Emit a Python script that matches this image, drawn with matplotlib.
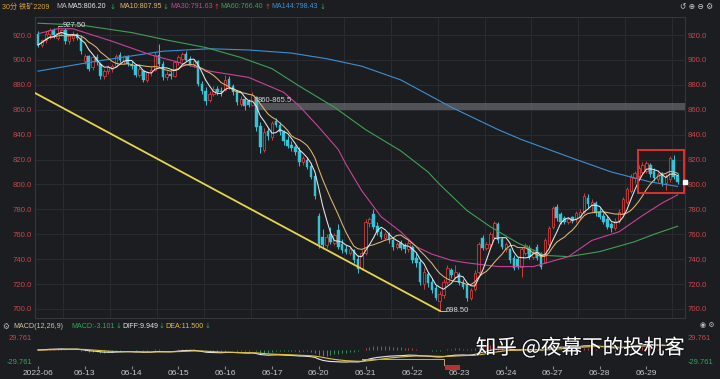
import numpy as np
import pandas as pd
import matplotlib
matplotlib.use("Agg")
import matplotlib.pyplot as plt
from matplotlib.patches import Rectangle
import matplotlib.patheffects as pe

plt.rcParams['font.family'] = ['Liberation Sans', 'Noto Sans CJK SC', 'DejaVu Sans']

BG = '#1c1d21'
GRID = '#2a2c31'
UP = '#d23c3c'
DOWN = '#36c3d6'
AX_RED = '#c9464a'
AX_GREEN = '#2fa85a'

# ---------- 30 min bars of 铁矿2209, one row per trading day ----------
opens = [921, 912, 916, 921, 924, 918, 922, 924, 915, 918, 921, 918,
         899, 903, 894, 902, 897, 887, 891, 893, 895, 904, 899, 903,
         896, 895, 888, 891, 884, 890, 892, 904, 897, 886, 889, 887,
         898, 901, 905, 901, 897, 899, 881, 875, 868, 873, 877, 875,
         876, 885, 879, 874, 865, 869, 867, 864, 870, 847, 828, 843,
         838, 851, 848, 842, 836, 832, 830, 827, 818, 820, 815, 807,
         775, 758, 751, 760, 753, 763, 752, 748, 745, 747, 740, 733,
         745, 769, 776, 767, 762, 757, 760, 755, 750, 753, 751, 748,
         750, 741, 738, 720, 728, 722, 717, 706, 711, 722, 731, 726,
         728, 722, 719, 709, 716, 730, 757, 749, 752, 758, 768, 756,
         748, 748, 741, 740, 734, 745, 749, 742, 750, 744, 738, 752,
         766, 782, 776, 773, 770, 774, 772, 774, 778, 789, 784, 785,
         778, 775, 772, 768, 765, 771, 777, 786, 795, 805, 807, 810,
         811, 816, 811, 804, 809, 801, 804, 820, 807]
highs = [923, 917, 923, 926, 926, 927.5, 925, 926, 921, 923, 922, 920,
         905, 904, 904, 905, 898, 893, 896, 897, 905, 906, 904, 904,
         899, 897, 894, 892, 891, 894, 906, 913, 899, 891, 891, 899,
         904, 906, 907, 903, 901, 900, 883, 878, 875, 879, 879, 878,
         888, 887, 881, 876, 871, 870, 869, 874, 871, 850, 845, 845,
         851, 853, 850, 844, 839, 835, 832, 830, 823, 822, 817, 809,
         777, 764, 760, 766, 761, 768, 756, 751, 750, 748, 743, 747,
         772, 774, 780, 770, 764, 762, 762, 757, 754, 755, 753, 755,
         751, 745, 740, 733, 730, 725, 719, 714, 724, 735, 733, 735,
         730, 724, 721, 717, 731, 754, 759, 754, 762, 771, 770, 758,
         754, 749, 743, 742, 750, 753, 751, 748, 752, 746, 757, 767,
         783, 784, 778, 775, 774, 775, 779, 780, 793, 792, 788, 787,
         781, 777, 775, 770, 773, 780, 790, 798, 808, 811, 816, 818,
         819, 817, 813, 810, 810, 808, 823, 823.6, 809]
lows = [910, 910, 914, 917, 918, 916, 919, 913, 913, 915, 916, 905,
        897, 891, 892, 896, 885, 885, 889, 890, 894, 898, 897, 895,
        893, 886, 886, 882, 882, 887, 891, 895, 884, 884, 885, 886,
        896, 899, 899, 895, 894, 879, 873, 864, 866, 871, 872, 871,
        875, 877, 872, 864, 863, 860, 862, 863, 843, 825, 826, 836,
        836, 846, 840, 832, 829, 827, 824, 815, 816, 812, 804, 788,
        749, 748, 749, 752, 751, 748, 745, 744, 743, 737, 729, 731,
        743, 766, 764, 759, 756, 755, 753, 747, 748, 747, 745, 746,
        737, 734, 719, 716, 718, 713, 707, 698.5, 709, 720, 725, 724,
        719, 716, 706, 707, 714, 728, 747, 747, 750, 757, 753, 748,
        746, 737, 731, 732, 726, 743, 740, 740, 739, 732, 737, 750,
        764, 771, 768, 768, 768, 769, 770, 772, 776, 781, 778, 775,
        772, 768, 764, 762, 763, 769, 776, 784, 793, 801, 805, 808,
        809, 806, 803, 802, 799, 795.5, 802, 804, 800]
closes = [912, 916, 921, 924, 920, 922, 924, 915, 920, 921, 918, 907,
          903, 893, 902, 898, 887, 891, 894, 895, 903, 900, 903, 897,
          895, 888, 893, 884, 890, 892, 904, 897, 886, 889, 887, 898,
          902, 905, 900, 897, 899, 881, 875, 867, 873, 877, 874, 874,
          884, 879, 874, 866, 869, 863, 864, 872, 846, 830, 842, 839,
          849, 848, 842, 835, 831, 829, 826, 818, 821, 814, 806, 791,
          752, 751, 758, 754, 759, 750, 747, 746, 748, 739, 732, 745,
          770, 772, 766, 762, 758, 760, 755, 750, 752, 749, 748, 753,
          739, 737, 722, 730, 721, 715, 709, 712, 722, 733, 727, 730,
          721, 718, 709, 715, 729, 752, 749, 752, 760, 769, 755, 750,
          752, 739, 733, 734, 748, 751, 742, 746, 741, 734, 755, 765,
          781, 773, 770, 770, 772, 771, 777, 778, 791, 784, 786, 777,
          774, 770, 766, 765, 771, 778, 788, 796, 806, 809, 813, 816,
          817, 808, 805, 808, 801, 806, 821, 806, 802]

day_start = [0, 12, 24, 36, 48, 60, 72, 84, 96, 108, 120, 132, 144, 156]
day_labels = ['2022-06', '06-13', '06-14', '06-15', '06-16', '06-17', '06-20',
              '06-21', '06-22', '06-23', '06-24', '06-27', '06-28', '06-29']

# slow averages at a few bars (bar index, price)
ma30_idx = [0, 5, 9, 19, 29, 35, 44, 54, 63, 67, 72, 77, 79, 83, 88, 93, 97,
            101, 106, 110, 118, 127, 136, 142, 149, 155, 160, 164]
ma30_val = [921, 925, 925, 915, 904, 899, 891, 886, 874, 863, 846, 828, 816,
            795, 774, 762, 750, 744, 739, 737, 734, 734, 742, 755, 762, 775,
            785, 791.6]
ma60_idx = [0, 11, 24, 33, 43, 52, 60, 67, 76, 84, 93, 100, 103, 110, 116,
            123, 130, 136, 144, 153, 158, 164]
ma60_val = [929.5, 928, 922, 916, 910, 902, 893, 879, 862, 844, 827, 810, 800,
            779, 766, 753, 743, 742, 746, 754, 760, 766.4]
ma144_idx = [0, 15, 32, 44, 54, 65, 74, 83, 93, 106, 118, 124, 138, 147, 157,
             164]
ma144_val = [891, 899, 907, 909, 908, 905.5, 901, 895, 884, 862, 844, 836, 820,
             810, 802, 798.4]

# drawings on the chart
trend_idx = [-0.8, 103]
trend_val = [873.5, 698.5]
band_start, band_lo, band_hi = 55.6, 860, 865.5
box_idx = [153.8, 165.6]
box_val = [793.1, 827.6]

# ------------------------------------------------------------------
o = np.array(opens, float)
h = np.array(highs, float)
l = np.array(lows, float)
c = np.array(closes, float)
n = len(c)
x = np.arange(n)
XL = (-0.77, 165.9)

s = pd.Series(c)
ma5 = s.rolling(5, min_periods=1).mean()
ma10 = s.rolling(10, min_periods=1).mean()
diff = s.ewm(span=12, adjust=False).mean() - s.ewm(span=26, adjust=False).mean()
dea = diff.ewm(span=9, adjust=False).mean()
hist = 2 * (diff - dea)

W, H = 720, 379
fig = plt.figure(figsize=(W / 100, H / 100), dpi=100, facecolor=BG)


def fx(px):
    return px / W


def fy(py):
    return 1 - py / H


ax = fig.add_axes([fx(35), fy(318), fx(650), (318 - 17) / H], facecolor=BG)
ax.set_xlim(*XL)
ax.set_ylim(692.7, 934.5)
for sp in ax.spines.values():
    sp.set_color('#34363c')
    sp.set_linewidth(0.8)

yt = np.arange(700, 921, 20)
ax.set_yticks(yt)
ax.set_yticklabels(['%.1f' % v for v in yt])
ax.tick_params(axis='y', length=0, labelsize=5.6, labelcolor=AX_RED,
               labelleft=True, labelright=True, pad=2)
ax.set_xticks(np.array(day_start) + 6.5)
ax.tick_params(axis='x', length=0, labelbottom=False)
ax.grid(True, color=GRID, lw=0.7)
ax.set_axisbelow(True)

# level band
ax.add_patch(Rectangle((band_start, band_lo), XL[1] - band_start, band_hi - band_lo,
                       facecolor='#64666b', edgecolor='none', alpha=0.75, zorder=1))
ax.text(band_start + 0.6, band_hi + 2.3, '860-865.5', color='#d8d8d8', fontsize=5.5,
        va='center', ha='left', zorder=6)

# candles
up = c >= o
ax.vlines(x[up], l[up], h[up], color=UP, lw=0.7, zorder=3)
ax.vlines(x[~up], l[~up], h[~up], color=DOWN, lw=0.7, zorder=3)
body = np.maximum(np.abs(c - o), 0.5)
ax.bar(x[up], body[up], bottom=np.minimum(o, c)[up], width=0.64, facecolor=BG,
       edgecolor=UP, linewidth=0.6, zorder=4)
ax.bar(x[~up], body[~up], bottom=np.minimum(o, c)[~up], width=0.64,
       facecolor=DOWN, edgecolor=DOWN, linewidth=0.3, zorder=4)

# averages
ax.plot(ma144_idx, ma144_val, color='#3d8fd4', lw=0.8, zorder=5)
ax.plot(ma60_idx, ma60_val, color='#3fa052', lw=0.8, zorder=5)
ax.plot(ma30_idx, ma30_val, color='#c8429a', lw=0.8, zorder=5)
ax.plot(x, ma10, color='#e0b870', lw=0.75, zorder=5)
ax.plot(x, ma5, color='#e8e8e8', lw=0.75, zorder=5)

# trend line and box
ax.plot(trend_idx, trend_val, color='#e8d44d', lw=1.3, zorder=6)
ax.add_patch(Rectangle((box_idx[0], box_val[0]), box_idx[1] - box_idx[0],
                       box_val[1] - box_val[0], fill=False, edgecolor='#e0302c',
                       lw=1.4, zorder=7, clip_on=False))

# high / low marks
ih, il = int(np.argmax(h)), int(np.argmin(l))
ax.plot([ih, ih + 1.2], [h[ih], h[ih]], color='#cfcfcf', lw=0.6, zorder=6)
ax.text(ih + 1.3, h[ih], '%.2f' % h[ih], color='#dcdcdc', fontsize=5.5, va='center', zorder=6)
ax.plot([il, il + 1.5], [l[il], l[il]], color='#cfcfcf', lw=0.6, zorder=6)
ax.text(il + 1.6, l[il], '%.2f' % l[il], color='#dcdcdc', fontsize=5.5, va='center', zorder=6)
ax.plot([XL[1]], [c[-1]], marker='s', ms=2.2, color='white', clip_on=False, zorder=8)

# ---------- MACD ----------
mx = fig.add_axes([fx(35), fy(366), fx(650), (366 - 332) / H], facecolor=BG)
mx.set_xlim(*XL)
mx.set_ylim(-39.7, 44.6)
for sp in mx.spines.values():
    sp.set_visible(False)
pos = hist >= 0
mx.vlines(x[pos], 0, hist[pos], color='#c23c3c', lw=0.7)
mx.vlines(x[~pos], 0, hist[~pos], color='#2f9a5a', lw=0.7)
mx.plot(x, diff, color='#e6e6e6', lw=0.8)
mx.plot(x, dea, color='#e0c040', lw=0.8)
mx.plot([83, 104, 104], [-22.3, -22.3, -39.7], color='#c9a86a', lw=0.7)
mx.set_yticks([29.761, -29.761])
mx.set_yticklabels(['29.761', '-29.761'])
mx.tick_params(axis='y', length=0, labelsize=5.4, labelleft=True, labelright=True, pad=2)
for tk, col in zip(mx.yaxis.get_major_ticks(), [AX_RED, AX_GREEN]):
    tk.label1.set_color(col)
    tk.label2.set_color(col)
mx.set_xticks(day_start)
mx.set_xticklabels(day_labels)
mx.tick_params(axis='x', length=2, color='#8a8a8a', labelsize=6, labelcolor='#c8c8c8', pad=1)

fig.add_artist(Rectangle((fx(445), fy(370)), fx(15), 5 / H, transform=fig.transFigure,
                         facecolor='#b8322e', edgecolor='none'))

# ---------- header texts ----------
def htext(px, py, s, col, size=5.1, **kw):
    fig.text(fx(px), fy(py), s, color=col, fontsize=size, va='center', ha='left', **kw)


htext(2, 7, '30分 铁矿2209', '#d9a13a')
htext(56, 7, 'MA', '#bdbdbd')
htext(67, 7, 'MA5:806.20', '#e6e6e6')
htext(110, 7, '↓', AX_GREEN, family='DejaVu Sans')
htext(119, 7, 'MA10:807.95', '#e0b870')
htext(163, 7, '↓', AX_GREEN, family='DejaVu Sans')
htext(170, 7, 'MA30:791.63', '#c8429a')
htext(214, 7, '↑', '#e04040', family='DejaVu Sans')
htext(220, 7, 'MA60:766.40', '#3fa052')
htext(265, 7, '↑', '#e04040', family='DejaVu Sans')
htext(271, 7, 'MA144:798.43', '#3d8fd4')
htext(320, 7, '↓', AX_GREEN, family='DejaVu Sans')
htext(680, 6, '↺ ⊕ ⊖ ⚙', '#cfcfcf', size=5.5, family='DejaVu Sans')

htext(2, 326, '⚙', '#bdbdbd', size=5.5, family='DejaVu Sans')
htext(13, 326, 'MACD(12,26,9)', '#d2c2a0')
htext(71, 326, 'MACD:-3.101', AX_GREEN)
htext(116, 326, '↓', AX_GREEN, family='DejaVu Sans')
htext(122, 326, 'DIFF:9.949', '#e6e6e6')
htext(159, 326, '↓', AX_GREEN, family='DejaVu Sans')
htext(165, 326, 'DEA:11.500', '#e0c040')
htext(205, 326, '↓', AX_GREEN, family='DejaVu Sans')
htext(700, 325, '◉ ⚙', '#bdbdbd', size=5, family='DejaVu Sans')

fig.text(fx(580), fy(348), '知乎 @夜幕下的投机客', color='white', fontsize=14.8,
         family=['Noto Sans CJK SC', 'DejaVu Sans'], ha='center', va='center',
         path_effects=[pe.withStroke(linewidth=1.5, foreground='#000000', alpha=0.35)])

fig.savefig('out.png', dpi=100, facecolor=BG)
